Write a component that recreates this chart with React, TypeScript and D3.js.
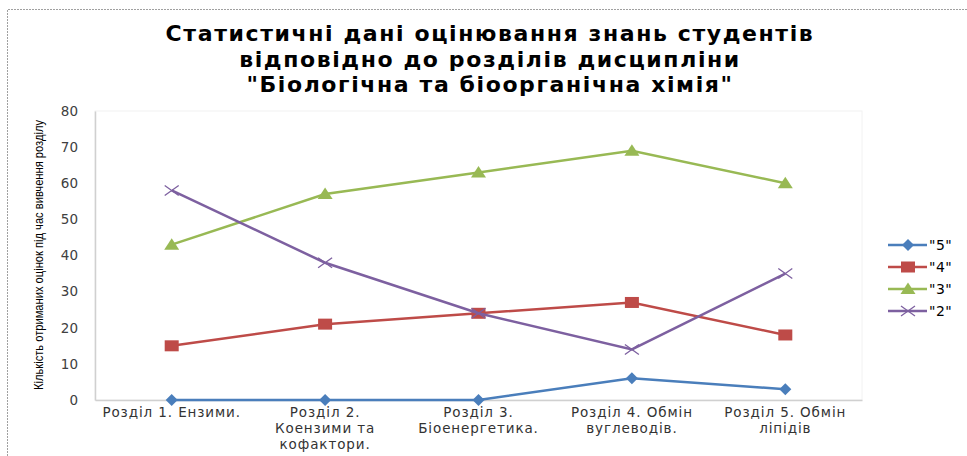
import { useEffect, useRef } from "react";
import * as d3 from "d3";

const categories = [
  "Розділ 1. Ензими.",
  "Розділ 2.\nКоензими та\nкофактори.",
  "Розділ 3.\nБіоенергетика.",
  "Розділ 4. Обмін\nвуглеводів.",
  "Розділ 5. Обмін\nліпідів",
];
const grade5 = [0, 0, 0, 6, 3];
const grade4 = [15, 21, 24, 27, 18];
const grade3 = [43, 57, 63, 69, 60];
const grade2 = [58, 38, 24, 14, 35];
const seriesNames = ['"5"', '"4"', '"3"', '"2"'];
const yTicks = [0, 10, 20, 30, 40, 50, 60, 70, 80];
const titleLines = [
  "Статистичні дані оцінювання знань студентів",
  "відповідно до розділів дисципліни",
  '"Біологічна та біоорганічна хімія"',
];
const yTitle = "Кількість отриманих оцінок під час вивчення розділу";

const colors = ["#4a7ebb", "#be4b48", "#98b954", "#7d60a0"];
const markers = ["diamond", "square", "triangle", "cross"];

const W = 967;
const H = 456;

const App = () => {
  const svgRef = useRef<SVGSVGElement | null>(null);

  useEffect(() => {
    const svg = d3.select(svgRef.current);
    svg.selectAll("*").remove();

    const plot = { left: 95, right: 862, top: 111, bottom: 400 };
    const x = d3
      .scaleBand()
      .domain(categories)
      .range([plot.left, plot.right]);
    const y = d3.scaleLinear().domain([0, 80]).range([plot.bottom, plot.top]);
    const cx = (c: string) => (x(c) as number) + x.bandwidth() / 2;

    // outer dotted frame (cropped on the right/bottom)
    svg
      .append("path")
      .attr("d", `M7.5,${H} V9.5 H${W}`)
      .attr("fill", "none")
      .attr("stroke", "#a0a0a0")
      .attr("stroke-dasharray", "2,1");

    // title
    const title = svg
      .append("text")
      .attr("text-anchor", "middle")
      .attr("font-family", "DejaVu Sans")
      .attr("font-weight", "bold")
      .attr("font-size", 22)
      .attr("letter-spacing", 1.6)
      .attr("fill", "#000");
    titleLines.forEach((t, i) => {
      title
        .append("tspan")
        .attr("x", 490)
        .attr("y", 41 + i * 25.5)
        .text(t);
    });

    // plot area faint border
    svg
      .append("rect")
      .attr("x", plot.left)
      .attr("y", plot.top)
      .attr("width", plot.right - plot.left)
      .attr("height", plot.bottom - plot.top)
      .attr("fill", "none")
      .attr("stroke", "#f2f2f2");

    // axes
    const yAxis = svg
      .append("g")
      .attr("transform", `translate(${plot.left},0)`)
      .call(d3.axisLeft(y).tickValues(yTicks).tickSize(0).tickPadding(17));
    yAxis.select(".domain").attr("stroke", "#d0d0d0").attr("stroke-width", 1.5);
    yAxis
      .selectAll("text")
      .attr("font-family", "DejaVu Sans")
      .attr("font-size", 13.5)
      .attr("fill", "#404040");

    const xAxis = svg
      .append("g")
      .attr("transform", `translate(0,${plot.bottom})`)
      .call(d3.axisBottom(x).tickSize(0).tickFormat(() => ""));
    xAxis.select(".domain").attr("stroke", "#d0d0d0").attr("stroke-width", 1.5);

    categories.forEach((c) => {
      const t = svg
        .append("text")
        .attr("text-anchor", "middle")
        .attr("font-family", "DejaVu Sans")
        .attr("font-size", 13.5)
        .attr("letter-spacing", 0.9)
        .attr("fill", "#333");
      c.split("\n").forEach((line, i) => {
        t.append("tspan")
          .attr("x", cx(c))
          .attr("y", 417 + i * 16)
          .text(line);
      });
    });

    // y title
    svg
      .append("text")
      .attr("transform", `translate(43,255) rotate(-90)`)
      .attr("text-anchor", "middle")
      .attr("font-family", "Liberation Sans")
      .attr("font-size", 13)
      .attr("textLength", 270)
      .attr("lengthAdjust", "spacingAndGlyphs")
      .attr("fill", "#000")
      .text(yTitle);

    const drawMarker = (
      g: d3.Selection<SVGGElement, unknown, null, undefined>,
      kind: string,
      px: number,
      py: number,
      color: string
    ) => {
      if (kind === "diamond") {
        g.append("path")
          .attr("d", `M${px},${py - 6}L${px + 6},${py}L${px},${py + 6}L${px - 6},${py}Z`)
          .attr("fill", color);
      } else if (kind === "square") {
        g.append("rect")
          .attr("x", px - 7)
          .attr("y", py - 5.5)
          .attr("width", 14)
          .attr("height", 11)
          .attr("fill", color);
      } else if (kind === "triangle") {
        g.append("path")
          .attr("d", `M${px},${py - 6.5}L${px + 7.5},${py + 5}L${px - 7.5},${py + 5}Z`)
          .attr("fill", color);
      } else {
        g.append("path")
          .attr("d", `M${px - 7},${py - 5}L${px + 7},${py + 5}M${px - 7},${py + 5}L${px + 7},${py - 5}`)
          .attr("stroke", color)
          .attr("stroke-width", 1.3)
          .attr("fill", "none");
      }
    };

    const allSeries = [grade5, grade4, grade3, grade2];
    const line = d3
      .line<number>()
      .x((_, i) => cx(categories[i]))
      .y((d) => y(d));

    allSeries.forEach((vals, si) => {
      const g = svg.append("g");
      g.append("path")
        .attr("d", line(vals))
        .attr("fill", "none")
        .attr("stroke", colors[si])
        .attr("stroke-width", 2.5);
      vals.forEach((v, i) => {
        drawMarker(g, markers[si], cx(categories[i]), y(v), colors[si]);
      });
    });

    // legend
    seriesNames.forEach((name, i) => {
      const ly = 245 + i * 22;
      const g = svg.append("g");
      g.append("line")
        .attr("x1", 888)
        .attr("x2", 927)
        .attr("y1", ly)
        .attr("y2", ly)
        .attr("stroke", colors[i])
        .attr("stroke-width", 2.5);
      drawMarker(g, markers[i], 908, ly, colors[i]);
      g.append("text")
        .attr("x", 929)
        .attr("y", ly + 5)
        .attr("font-family", "DejaVu Sans")
        .attr("font-size", 14)
        .attr("letter-spacing", 0.5)
        .attr("fill", "#000")
        .text(name);
    });
  }, []);

  return (
    <svg
      ref={svgRef}
      width={W}
      height={H}
      style={{ position: "absolute", left: 0, top: 0, background: "#fff" }}
    ></svg>
  );
};

export default App;
